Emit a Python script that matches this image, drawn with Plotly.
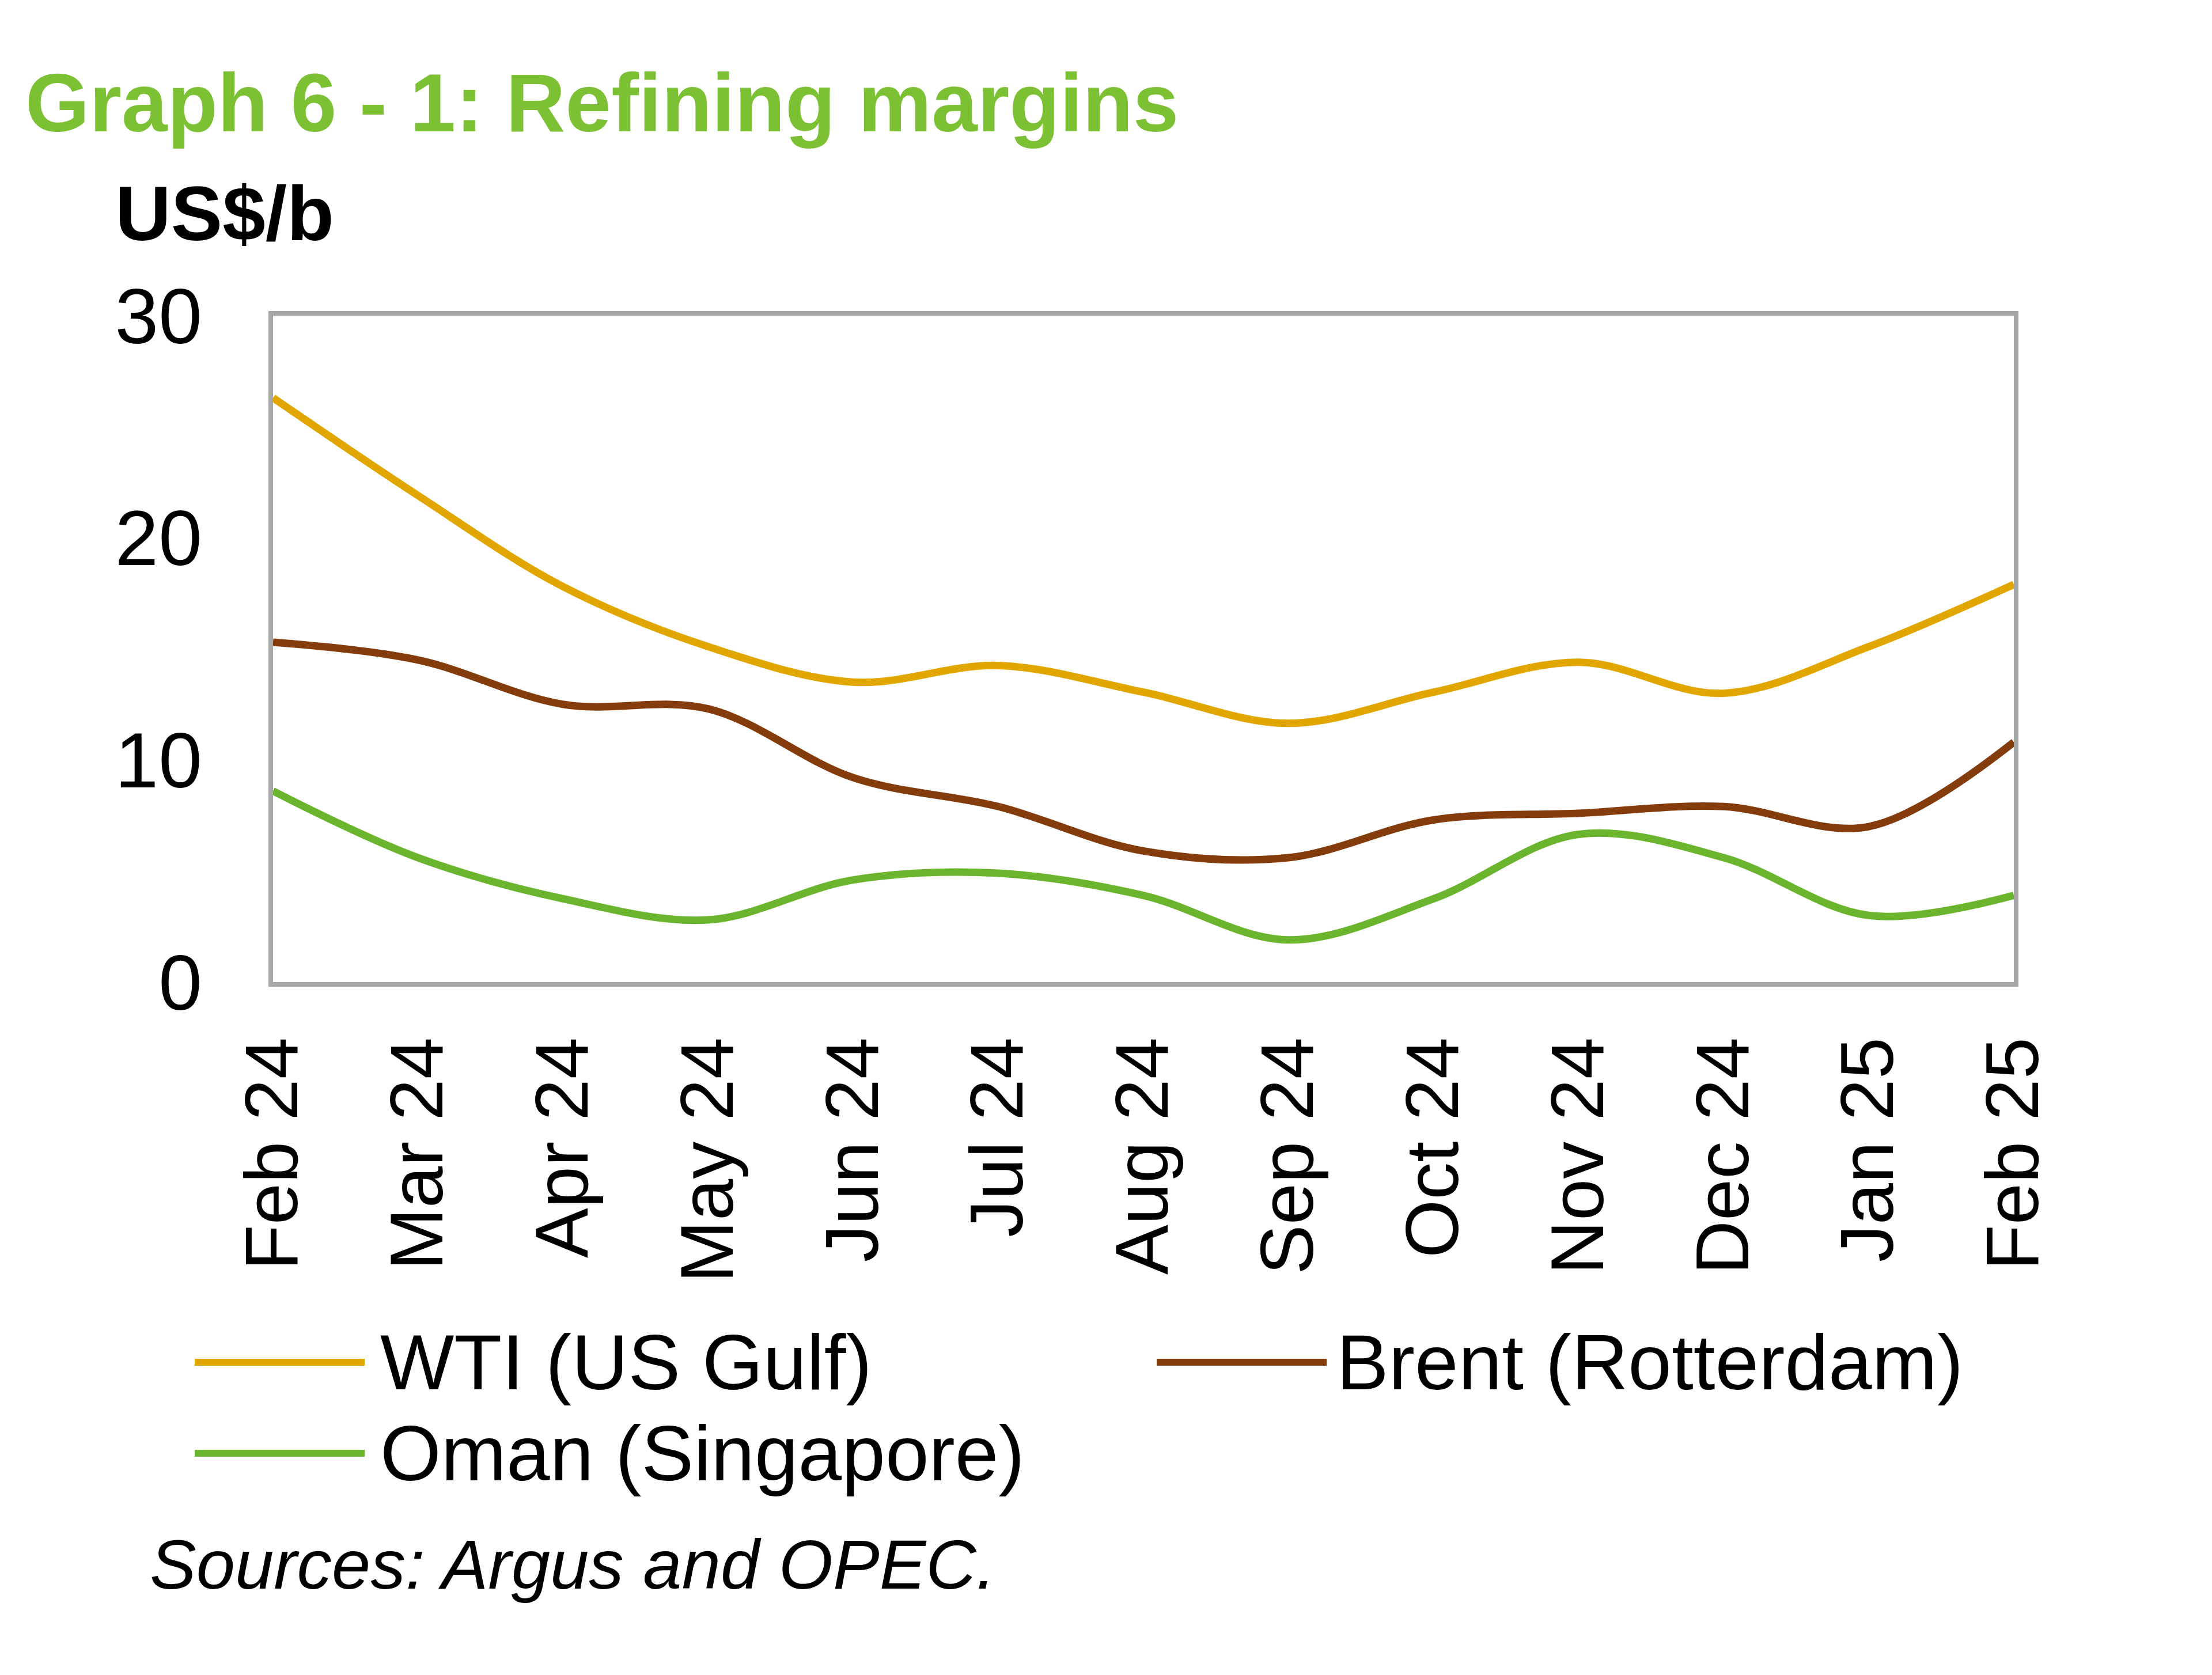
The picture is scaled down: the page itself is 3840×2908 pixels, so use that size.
import plotly.graph_objects as go

months = ["Feb 24", "Mar 24", "Apr 24", "May 24", "Jun 24", "Jul 24", "Aug 24",
          "Sep 24", "Oct 24", "Nov 24", "Dec 24", "Jan 25", "Feb 25"]
wti = [26.3, 21.9, 17.8, 15.1, 13.5, 14.25, 13.05, 11.65, 13.05, 14.4, 13.0, 15.1, 17.9]
brent = [15.3, 14.5, 12.5, 12.3, 9.2, 7.9, 5.9, 5.6, 7.3, 7.6, 7.9, 7.0, 10.8]
oman = [8.6, 5.6, 3.75, 2.8, 4.6, 4.9, 3.9, 1.9, 3.75, 6.65, 5.6, 3.0, 3.9]

series_names = ["WTI (US Gulf)", "Brent (Rotterdam)", "Oman (Singapore)"]
series_colors = ["#E2A600", "#843C0C", "#6BB52E"]

FONT = "Liberation Sans, Arial, sans-serif"
W, H = 3840, 2908
L, R, T, B = 466, 3488, 540, 1697
pw = R - L
ph = B - T


def px_x(x):
    return (x - L) / pw


def px_y(y):
    return (B - y) / ph


fig = go.Figure()
for name, vals, col in zip(series_names, [wti, brent, oman], series_colors):
    fig.add_trace(go.Scatter(
        x=months, y=vals, name=name, mode="lines",
        line=dict(color=col, width=13, shape="spline", smoothing=1.0),
        showlegend=False,
    ))

# legend drawn as line samples + labels (positions in pixels)
legend_pos = [(330, 625, 650, 2357), (2000, 2295, 2310, 2357), (330, 625, 650, 2515)]
shapes = []
annotations = []
for (x0, x1, xt, yc), name, col in zip(legend_pos, series_names, series_colors):
    shapes.append(dict(type="line", xref="paper", yref="paper",
                       x0=px_x(x0), x1=px_x(x1), y0=px_y(yc), y1=px_y(yc),
                       line=dict(color=col, width=12)))
    annotations.append(dict(text=name, xref="paper", yref="paper",
                            x=px_x(xt), y=px_y(yc), xanchor="left", yanchor="middle",
                            showarrow=False,
                            font=dict(family=FONT, size=136, color="black")))

annotations += [
    dict(text="<b>US$/b</b>", xref="paper", yref="paper",
         x=px_x(190), y=px_y(362), xanchor="left", yanchor="middle",
         showarrow=False, font=dict(family=FONT, size=134, color="black")),
    dict(text="<i>Sources: Argus and OPEC.</i>", xref="paper", yref="paper",
         x=px_x(250), y=px_y(2708), xanchor="left", yanchor="middle",
         showarrow=False, font=dict(family=FONT, size=121, color="black")),
]

fig.update_layout(
    width=W, height=H,
    margin=dict(l=L, r=W - R, t=T, b=H - B, pad=0),
    paper_bgcolor="white", plot_bgcolor="white",
    font=dict(family=FONT, size=136, color="black"),
    title=dict(
        text="<b>Graph 6 - 1: Refining margins</b>",
        font=dict(family=FONT, size=143, color="#7CC134"),
        xref="container", yref="container",
        x=36 / W, xanchor="left", y=1 - 170 / H, yanchor="middle",
    ),
    xaxis=dict(
        type="category", range=[0, 12], showgrid=False, zeroline=False,
        showline=True, linecolor="#A6A6A6", linewidth=8, mirror=True,
        ticks="", tickangle=-90, ticklabelstandoff=36,
        tickfont=dict(family=FONT, size=130, color="black"),
    ),
    yaxis=dict(
        range=[0, 30], dtick=10, showgrid=False, zeroline=False,
        showline=True, linecolor="#A6A6A6", linewidth=8, mirror=True,
        ticks="", ticklabelstandoff=88,
        tickfont=dict(family=FONT, size=136, color="black"),
    ),
    showlegend=False,
    shapes=shapes,
    annotations=annotations,
)

fig.write_html("out.html")
